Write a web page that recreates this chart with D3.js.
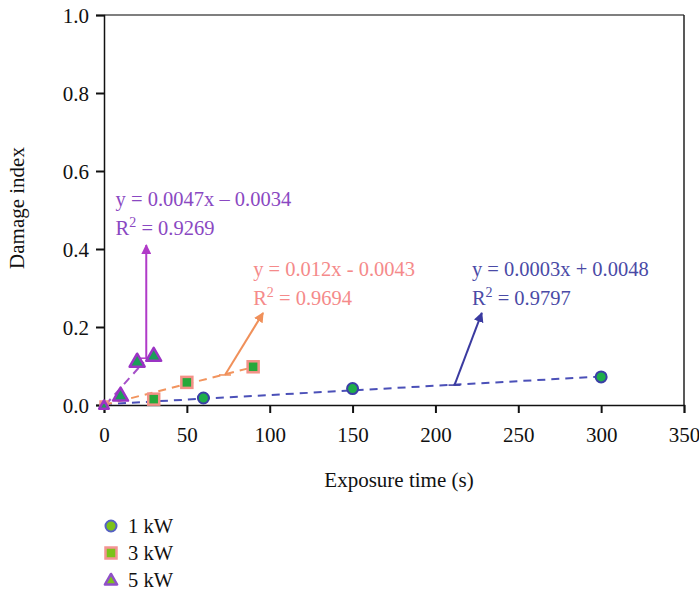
<!DOCTYPE html>
<html>
<head>
<meta charset="utf-8">
<script src="https://cdn.jsdelivr.net/npm/d3@7"></script>
<style>
  body { margin: 0; background: #fff; }
</style>
</head>
<body>
<div id="chart"></div>
<script>
var width = 699;
var height = 597;
var margin = { top: 15, right: 15, bottom: 192, left: 104 };
var serif = "'Liberation Serif', 'DejaVu Serif', 'Times New Roman', serif";
var fontSize = 21;
var labelSize = 20.5;

// measured points
var x1kW = [60, 150, 300];
var y1kW = [0.018, 0.042, 0.072];
var x3kW = [30, 50, 90];
var y3kW = [0.015, 0.058, 0.098];
var x5kW = [10, 20, 30];
var y5kW = [0.025, 0.112, 0.127];

// fitted trend lines [x0, y0, x1, y1]
var trend1kW = [0, 0.002, 300, 0.073];
var trend3kW = [0, 0, 90, 0.097];
var trend5kW = [0.8, 0, 24, 0.11];

// leader arrows [x0, y0, x1, y1]
var arrow1kW = [211.5, 0.051, 228, 0.236];
var arrow3kW = [73, 0.077, 96, 0.236];
var arrow5kW = [25.5, 0.12, 25.5, 0.41];

var xTicks = [0, 50, 100, 150, 200, 250, 300, 350];
var yTicks = [0, 0.2, 0.4, 0.6, 0.8, 1.0];

var series = [
  { name: "1 kW", xs: x1kW, ys: y1kW, trend: trend1kW, arrow: arrow1kW, shape: "circle",
    fill: "#1fae4a", stroke: "#3b3fa6", legendFill: "#7cc21a", legendStroke: "#5560c4",
    lineColor: "#4b50b8", arrowColor: "#3a3aa0", labelColor: "#4a4aa6",
    eq: "y = 0.0003x + 0.0048", r2: "0.9797", labelAt: [222, 0.33] },
  { name: "3 kW", xs: x3kW, ys: y3kW, trend: trend3kW, arrow: arrow3kW, shape: "square",
    fill: "#27a83a", stroke: "#f39187", legendFill: "#7cc21a", legendStroke: "#f49494",
    lineColor: "#f2945e", arrowColor: "#f0905a", labelColor: "#f58a8a",
    eq: "y = 0.012x - 0.0043", r2: "0.9694", labelAt: [90, 0.33] },
  { name: "5 kW", xs: x5kW, ys: y5kW, trend: trend5kW, arrow: arrow5kW, shape: "triangle",
    fill: "#1c9e58", stroke: "#9b34c4", legendFill: "#7cc21a", legendStroke: "#9050c8",
    lineColor: "#a650c8", arrowColor: "#b03ac8", labelColor: "#8a48c2",
    eq: "y = 0.0047x \u2013 0.0034", r2: "0.9269", labelAt: [7, 0.51] }
];

var plotH = 405 - margin.top;

var x = d3.scaleLinear().domain([0, 350]).range([0, 580]);
var y = d3.scaleLinear().domain([0, 1]).range([plotH, 0]);

var svg = d3.select("#chart").append("svg")
  .attr("width", width)
  .attr("height", height)
  .style("font-family", serif);

var defs = svg.append("defs");
series.forEach((s, i) => {
  defs.append("marker")
    .attr("id", "arr" + i)
    .attr("viewBox", "0 0 10 10")
    .attr("refX", 9)
    .attr("refY", 5)
    .attr("markerWidth", 5)
    .attr("markerHeight", 5)
    .attr("orient", "auto")
    .append("path")
    .attr("d", "M0,0L10,5L0,10Z")
    .attr("fill", s.arrowColor);
});

var g = svg.append("g")
  .attr("transform", "translate(" + margin.left + "," + margin.top + ")");

// frame
g.append("line").attr("x1", 0).attr("x2", x(350)).attr("y1", 0).attr("y2", 0)
  .attr("stroke", "#555").attr("stroke-width", 1.5);
g.append("line").attr("x1", x(350)).attr("x2", x(350)).attr("y1", 0).attr("y2", plotH)
  .attr("stroke", "#222").attr("stroke-width", 1.5);

var xAxis = g.append("g")
  .attr("transform", "translate(0," + plotH + ")")
  .call(d3.axisBottom(x).tickValues(xTicks).tickSize(8).tickPadding(14).tickFormat(d3.format("d")));
var yAxis = g.append("g")
  .call(d3.axisLeft(y).tickValues(yTicks).tickSize(8).tickPadding(7).tickFormat(d3.format(".1f")));

[xAxis, yAxis].forEach(a => {
  a.attr("font-family", null).attr("font-size", null);
  a.select(".domain").attr("stroke", "#111").attr("stroke-width", 1.5);
  a.selectAll(".tick line").attr("stroke", "#111").attr("stroke-width", 2);
  a.selectAll(".tick text")
    .style("font-family", serif)
    .style("font-size", fontSize + "px")
    .attr("fill", "#111");
});
yAxis.selectAll(".tick text").attr("dy", "0.35em");

g.append("text")
  .attr("x", x(350) / 2 + 5)
  .attr("y", plotH + 82)
  .attr("text-anchor", "middle")
  .style("font-family", serif)
  .style("font-size", fontSize + "px")
  .attr("fill", "#111")
  .text("Exposure time (s)");

g.append("text")
  .attr("transform", "translate(-80," + (plotH / 2 - 2) + ") rotate(-90)")
  .attr("text-anchor", "middle")
  .style("font-family", serif)
  .style("font-size", fontSize + "px")
  .attr("fill", "#111")
  .text("Damage index");

// trend lines
series.forEach(s => {
  g.append("line")
    .attr("x1", x(s.trend[0])).attr("y1", y(s.trend[1]))
    .attr("x2", x(s.trend[2])).attr("y2", y(s.trend[3]))
    .attr("stroke", s.lineColor)
    .attr("stroke-width", 2)
    .attr("stroke-dasharray", "8,6");
});

// leader arrows
series.forEach((s, i) => {
  g.append("line")
    .attr("x1", x(s.arrow[0]) - 6).attr("x2", x(s.arrow[0]) + 6)
    .attr("y1", y(s.arrow[1])).attr("y2", y(s.arrow[1]))
    .attr("stroke", s.arrowColor).attr("stroke-width", 1.5);
  g.append("line")
    .attr("x1", x(s.arrow[0])).attr("y1", y(s.arrow[1]))
    .attr("x2", x(s.arrow[2])).attr("y2", y(s.arrow[3]))
    .attr("stroke", s.arrowColor)
    .attr("stroke-width", 2)
    .attr("marker-end", "url(#arr" + i + ")");
});

var tri = d3.symbol().type(d3.symbolTriangle);

function drawMarker(sel, shape, cx, cy, fill, stroke, size) {
  if (shape == "circle") {
    sel.append("circle").attr("cx", cx).attr("cy", cy).attr("r", size / 2)
      .attr("fill", fill).attr("stroke", stroke).attr("stroke-width", 2);
  }
  else if (shape == "square") {
    sel.append("rect").attr("x", cx - size / 2).attr("y", cy - size / 2)
      .attr("width", size).attr("height", size)
      .attr("fill", fill).attr("stroke", stroke).attr("stroke-width", 2.5);
  }
  else {
    sel.append("path").attr("d", tri.size(size * size * 0.8)())
      .attr("transform", "translate(" + cx + "," + (cy + 1) + ")")
      .attr("fill", fill).attr("stroke", stroke).attr("stroke-width", 2.5)
      .attr("stroke-linejoin", "round");
  }
}

// origin marks
series.forEach(s => {
  drawMarker(g, s.shape, x(0), y(0), s.fill, s.stroke, 7);
});

// data points
series.forEach(s => {
  s.xs.forEach((v, i) => {
    drawMarker(g, s.shape, x(v), y(s.ys[i]), s.fill, s.stroke, 11);
  });
});

// equation labels
series.forEach(s => {
  g.append("text")
    .attr("x", x(s.labelAt[0]))
    .attr("y", y(s.labelAt[1]))
    .style("font-family", serif)
    .style("font-size", labelSize + "px")
    .attr("fill", s.labelColor)
    .text(s.eq);
  var r = g.append("text")
    .attr("x", x(s.labelAt[0]))
    .attr("y", y(s.labelAt[1]) + 29)
    .style("font-family", serif)
    .style("font-size", labelSize + "px")
    .attr("fill", s.labelColor);
  r.append("tspan").text("R");
  r.append("tspan").attr("dy", -8).style("font-size", "14px").text("2");
  r.append("tspan").attr("dy", 8).text(" = " + s.r2);
});

// legend
var legend = svg.append("g").attr("transform", "translate(111,526)");
series.forEach((s, i) => {
  var row = legend.append("g").attr("transform", "translate(0," + (i * 27) + ")");
  drawMarker(row, s.shape, 0, 0, s.legendFill, s.legendStroke, s.shape == "triangle" ? 9 : 11);
  row.append("text")
    .attr("x", 17)
    .attr("y", 0)
    .attr("dy", "0.35em")
    .style("font-family", serif)
    .style("font-size", (fontSize - 0.5) + "px")
    .attr("fill", "#111")
    .text(s.name);
});
</script>
</body>
</html>
